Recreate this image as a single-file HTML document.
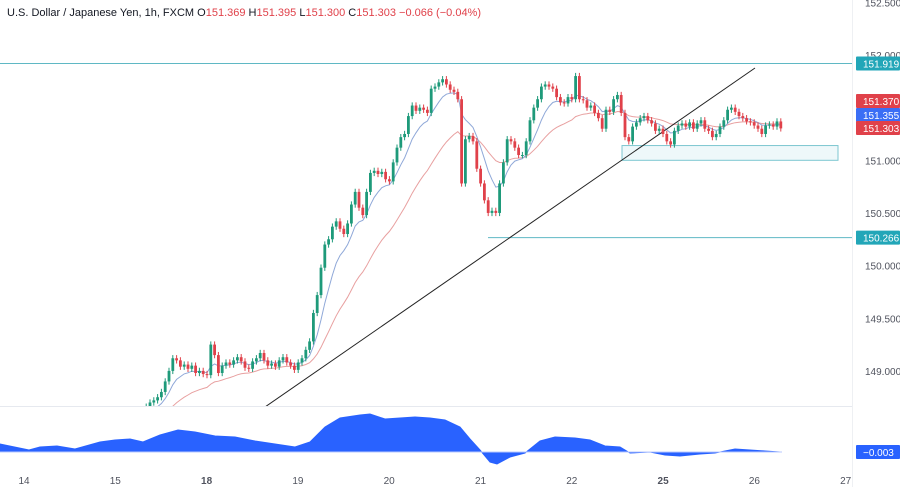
<!DOCTYPE html>
<html><head><meta charset="utf-8"><style>
body{margin:0;background:#fff;width:900px;height:487px;overflow:hidden;font-family:"Liberation Sans",sans-serif}
svg text{font-family:"Liberation Sans",sans-serif}
</style></head><body>
<svg id="c" width="900" height="487" xmlns="http://www.w3.org/2000/svg">
<defs><clipPath id="pc"><rect x="0" y="0" width="852" height="406"/></clipPath></defs>
<rect x="0" y="0" width="900" height="487" fill="#fff"/>
<line x1="0" y1="406.5" x2="852" y2="406.5" stroke="#e6e9ef"/>
<line x1="852.5" y1="0" x2="852.5" y2="487" stroke="#eef0f3"/>
<g id="plot" clip-path="url(#pc)"></g>
<g id="osc"></g>
<g id="axis"></g>
<text x="7" y="16" font-size="11" fill="#131722">U.S. Dollar / Japanese Yen, 1h, FXCM <tspan fill="#131722">O</tspan><tspan fill="#e0414a">151.369 </tspan><tspan fill="#131722">H</tspan><tspan fill="#e0414a">151.395 </tspan><tspan fill="#131722">L</tspan><tspan fill="#e0414a">151.300 </tspan><tspan fill="#131722">C</tspan><tspan fill="#e0414a">151.303 −0.066 (−0.04%)</tspan></text>
</svg>
<script>
const closes=[148.30,148.32,148.35,148.33,148.30,148.28,148.32,148.38,148.42,148.45,148.40,148.38,148.42,148.48,148.50,148.46,148.44,148.40,148.42,148.45,148.43,148.40,148.42,148.46,148.50,148.52,148.48,148.45,148.47,148.50,148.53,148.55,148.52,148.55,148.58,148.60,148.62,148.66,
148.70,148.72,148.75,148.80,148.90,149.00,149.12,149.10,149.04,149.06,149.02,149.05,148.98,149.00,148.97,148.96,149.25,149.15,148.98,149.05,149.08,149.06,149.10,149.13,149.09,149.03,149.02,149.09,149.12,149.17,149.10,149.05,149.07,149.04,149.10,149.13,149.08,149.05,149.01,149.08,149.12,149.20,149.28,149.55,149.72,149.98,150.20,150.25,150.37,150.42,150.35,150.30,150.40,150.58,150.70,150.55,150.48,150.70,150.88,150.90,150.87,150.89,150.82,150.80,150.98,151.12,151.22,151.25,151.42,151.52,151.47,151.50,151.48,151.45,151.68,151.70,151.74,151.77,151.72,151.67,151.65,151.58,150.78,151.20,151.23,151.18,150.92,150.78,150.62,150.50,150.52,150.50,150.78,150.98,151.20,151.18,151.12,151.05,151.05,151.18,151.38,151.50,151.58,151.70,151.72,151.70,151.68,151.60,151.55,151.54,151.60,151.58,151.80,151.58,151.57,151.50,151.52,151.45,151.40,151.30,151.48,151.46,151.58,151.62,151.45,151.22,151.18,151.32,151.36,151.40,151.42,151.38,151.35,151.28,151.30,151.25,151.18,151.15,151.28,151.33,151.35,151.32,151.36,151.30,151.35,151.38,151.30,151.28,151.22,151.25,151.32,151.38,151.48,151.50,151.46,151.42,151.40,151.37,151.36,151.33,151.30,151.25,151.33,151.34,151.32,151.369,151.303];
const priceTicks=[152.5,152.0,151.5,151.0,150.5,150.0,149.5,149.0];
const dayLabels=["14","15","18","19","20","21","22","25","26","27"];
const dayBold=[false,false,true,false,false,false,false,true,false,false];
const oscX=[0,29,40,57,75,100,115,130,143,160,178,195,215,235,255,275,295,310,325,340,360,370,385,400,415,430,445,460,470,480,490,497,510,525,540,555,575,590,605,620,630,650,665,680,700,715,735,750,765,780];
const oscVal=[0.08,0.02,0.05,0.06,0.03,0.10,0.12,0.13,0.10,0.17,0.22,0.20,0.16,0.15,0.11,0.08,0.05,0.10,0.25,0.34,0.37,0.38,0.33,0.34,0.35,0.34,0.32,0.25,0.13,0.02,-0.10,-0.12,-0.05,-0.01,0.11,0.15,0.14,0.12,0.06,0.05,-0.01,0.00,-0.03,-0.04,-0.02,-0.01,0.03,0.02,0.01,0.00];
const firstVisible=38;
const NS="http://www.w3.org/2000/svg";
const yP=p=>55+(152-p)*105.3;
const xI=i=>150+3.8*(i-firstVisible);
const yO=v=>452-v*100;
function mk(tag,attrs,parent){const e=document.createElementNS(NS,tag);for(const k in attrs)e.setAttribute(k,attrs[k]);parent.appendChild(e);return e;}
const plot=document.getElementById('plot'),axis=document.getElementById('axis'),osc=document.getElementById('osc');
// levels
let l=mk('line',{x1:0,y1:yP(151.919),x2:852,y2:yP(151.919),stroke:'#5fb8c4','stroke-width':1},plot);


l=mk('line',{x1:488,y1:yP(150.266),x2:852,y2:yP(150.266),stroke:'#5fb8c4','stroke-width':1},plot);


l=mk('rect',{x:622,y:yP(151.14),width:216,height:yP(151.0)-yP(151.14),fill:'#eef8fa',stroke:'#7cc6d0','stroke-width':1},plot);


// EMAs
function ema(a,n){const k=2/(n+1);let r=[],v=a[0];for(const c of a){v=c*k+v*(1-k);r.push(v);}return r;}
function line(arr,col,name){let d='';arr.forEach((v,i)=>{d+=(i?'L':'M')+xI(i).toFixed(1)+','+yP(v).toFixed(1);});const p=mk('path',{d:d,fill:'none',stroke:col,'stroke-width':1},plot);}
line(ema(closes,25),'#e8a0a0','slow-moving-average');
line(ema(closes,8),'#8fa8d8','fast-moving-average');
// trendline
l=mk('line',{x1:265,y1:407,x2:755,y2:68,stroke:'#222','stroke-width':1},plot);


// candles
for(let i=1;i<closes.length;i++){
 const o=closes[i-1],c=closes[i],up=c>=o,col=up?'#1e9a7a':'#e0414a';
 const x=xI(i),hi=Math.max(o,c)+0.03,lo=Math.min(o,c)-0.03;
 const g=mk('g',{},plot);
 
 
 mk('line',{x1:x,y1:yP(hi),x2:x,y2:yP(lo),stroke:col,'stroke-width':1},g);
 const t=yP(Math.max(o,c)),b=yP(Math.min(o,c));
 mk('rect',{x:x-1.4,y:t,width:2.8,height:Math.max(1,b-t),fill:col},g);
}
// oscillator
let d='M'+oscX[0]+','+yO(0);oscX.forEach((x,i)=>{d+='L'+x+','+yO(oscVal[i]).toFixed(1);});d+='L'+oscX[oscX.length-1]+','+yO(0)+'Z';
l=mk('path',{d:d,fill:'#2962ff',stroke:'#2962ff','stroke-width':1},osc);


l=mk('line',{x1:0,y1:yO(0),x2:782,y2:yO(0),stroke:'#b8c8ff','stroke-width':1},osc);


// price ticks
priceTicks.forEach(p=>{const t=mk('text',{x:865,y:yP(p)+4,'font-size':10,fill:'#50535e'},axis);t.textContent=p.toFixed(3);

});
function tag(p,y,bg,name){const g=mk('g',{},axis);
mk('rect',{x:856,y:y-7,width:44,height:14,fill:bg,rx:1},g);
const t=mk('text',{x:863,y:y+4,'font-size':10,fill:'#fff'},g);t.textContent=p;}
tag('151.919',yP(151.919),'#22a6b8','price-tag-151919');
tag('151.370',101,'#e0414a','price-tag-open');
tag('151.355',115,'#3b6ef5','price-tag-ma');
tag('151.303',128,'#e0414a','price-tag-close');
tag('150.266',yP(150.266),'#22a6b8','price-tag-150266');
tag('−0.003',452,'#2962ff','oscillator-value-tag');
// day labels
dayLabels.forEach((s,i)=>{const t=mk('text',{x:24+i*91.3,y:484,'font-size':10,fill:'#50535e','text-anchor':'middle','font-weight':dayBold[i]?'bold':'normal'},axis);t.textContent=s;

});
</script>
</body></html>
